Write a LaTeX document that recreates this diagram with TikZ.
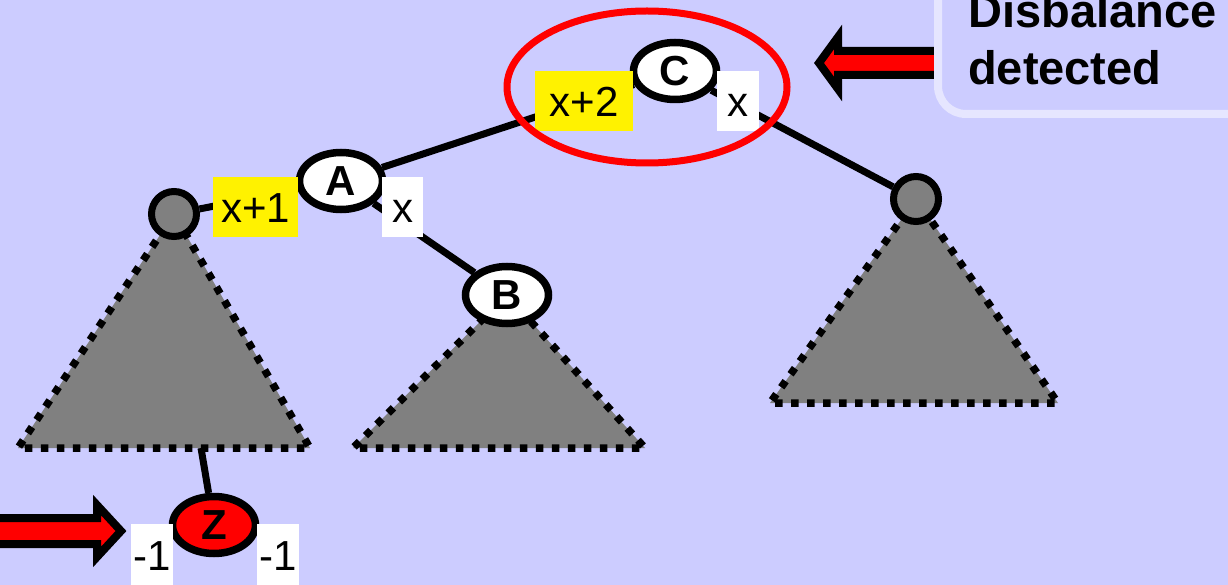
\documentclass[tikz,border=0pt]{standalone}
\usepackage{fontspec}
\setmainfont{Liberation Sans}
\usetikzlibrary{shapes.geometric}
\definecolor{bgc}{HTML}{CCCCFF}
\definecolor{boxedge}{HTML}{E6E6FF}
\definecolor{tri}{HTML}{808080}
\pgfdeclarelayer{back}
\pgfsetlayers{back,main}
\tikzset{
 tnode/.style={ellipse, draw=black, line width=7.5pt, fill=white, minimum width=83pt, minimum height=57pt, inner sep=0pt, font=\fontsize{42}{44}\selectfont\bfseries},
 gnode/.style={circle, draw=black, line width=7pt, fill=tri, minimum size=45pt, inner sep=0pt},
 edge/.style={line width=7pt, black},
 subtree/.style={fill=tri, draw=black, line width=7.5pt, dash pattern=on 7.5pt off 8.5pt},
 lbl/.style={inner xsep=0pt, inner ysep=0pt, text height=46pt, text depth=14pt, font=\fontsize{42}{44}\selectfont},
 ylbl/.style={lbl, fill=yellow},
 wlbl/.style={lbl, fill=white},
 fatarrow/.style={fill=red, draw=black, line width=8pt, line join=miter},
 bigtext/.style={anchor=base west, inner sep=0pt, font=\fontsize{47}{58}\selectfont\bfseries},
}
\begin{document}
\begin{tikzpicture}[x=1pt,y=-1pt]
\useasboundingbox (0,0) rectangle (1228,585);
% tree nodes
\node[tnode] (C) at (675,71) {C};
\node[tnode] (A) at (341,181) {A};
\node[tnode] (B) at (507,295) {B};
\node[gnode] (L) at (174,214) {};
\node[gnode] (R) at (916,199) {};
\node[tnode, fill=red] (Z) at (214,525) {Z};
\coordinate (zt) at (201,448);
\coordinate (l1) at (18,448);
\coordinate (l2) at (310,448);
\coordinate (m1) at (353,448);
\coordinate (m2) at (645,448);
\coordinate (r1) at (770,403);
\coordinate (r2) at (1058,403);
\begin{pgfonlayer}{back}
\fill[bgc] (0,0) rectangle (1228,585);
\draw[subtree] (L.center) -- (l1) -- (l2) -- cycle;
\draw[subtree] (B.center) -- (m1) -- (m2) -- cycle;
\draw[subtree] (R.center) -- (r1) -- (r2) -- cycle;
\draw[edge] (C) -- (A);
\draw[edge] (C) -- (R);
\draw[edge] (A) -- (L);
\draw[edge] (A) -- (B);
\draw[edge] (zt) -- (Z);
\end{pgfonlayer}
% balance labels
\node[ylbl, minimum width=98pt] (hC1) at (584,101) {x+2};
\node[wlbl, minimum width=42pt] (hC2) at (738,101) {x};
\node[ylbl, minimum width=85pt] (hA1) at (255.5,207) {x+1};
\node[wlbl, minimum width=41pt] (hA2) at (402.5,207) {x};
\node[wlbl, minimum width=42pt, text depth=16pt] (hZ1) at (152,555) {-1};
\node[wlbl, minimum width=42pt, text depth=16pt] (hZ2) at (278,555) {-1};
% red highlight ellipse
\draw[red, line width=7pt] (647,87) ellipse [x radius=140pt, y radius=76pt];
% arrows
\draw[fatarrow] (945,51) -- (838,51) -- (838,37) -- (819,63) -- (838,89) -- (838,75) -- (945,75) -- cycle;
\draw[fatarrow] (-20,518) -- (97,518) -- (97,505) -- (121,531) -- (97,557) -- (97,544) -- (-20,544) -- cycle;
% message box
\draw[boxedge, line width=8pt, fill=bgc, rounded corners=28pt] (938,-40) rectangle (1270,114);
\node[bigtext] (t1) at (968,28) {Disbalance};
\node[bigtext] (t2) at (968,85) {detected};
\end{tikzpicture}
\end{document}
